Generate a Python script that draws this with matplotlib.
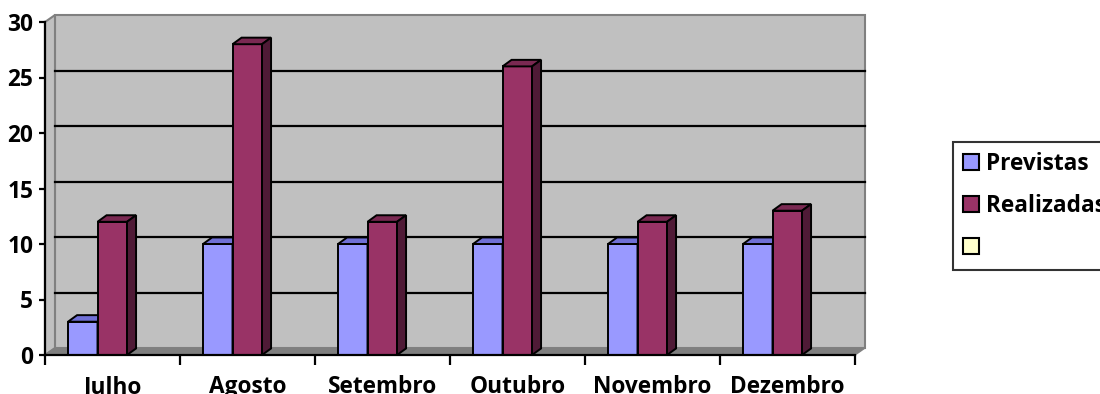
import matplotlib
matplotlib.use('Agg')
import matplotlib.pyplot as plt
from matplotlib.patches import Polygon, Patch

plt.rcParams['font.family'] = ['Open Sans', 'DejaVu Sans']
plt.rcParams['font.weight'] = 'bold'

# dados
meses = ['Julho', 'Agosto', 'Setembro', 'Outubro', 'Novembro', 'Dezembro']
previstas = [3, 10, 10, 10, 10, 10]
realizadas = [12, 28, 12, 26, 12, 13]
series = ['Previstas', 'Realizadas', '']
cores_frente = ['#9999FF', '#993366', '#FFFFCC']
cores_topo = ['#7070D6', '#7A2952']
cores_lado = ['#5A5AAA', '#4F1A36']

ymax = 30
n = len(meses)
dx, dy = 0.074, 0.63     # profundidade da parede (unidades de dados)
bdx, bdy = 0.067, 0.59   # profundidade das barras
w = 0.2185
fs = 16.3

fig = plt.figure(figsize=(11, 3.94), dpi=100)
ax = fig.add_axes([45 / 1100, 39 / 394, 810 / 1100, 333 / 394])
ax.set_xlim(0, n)
ax.set_ylim(0, ymax)

# parede do fundo, lateral e piso
ax.add_patch(Polygon([(dx, dy), (n + dx, dy), (n + dx, ymax + dy), (dx, ymax + dy)],
                     closed=True, fc='#C0C0C0', ec='#808080', lw=1.5, clip_on=False, zorder=1))
ax.add_patch(Polygon([(0, 0), (dx, dy), (dx, ymax + dy), (0, ymax)],
                     closed=True, fc='#C0C0C0', ec='#808080', lw=1.5, clip_on=False, zorder=1))
ax.add_patch(Polygon([(0, 0), (n, 0), (n + dx, dy), (dx, dy)],
                     closed=True, fc='#7F7F7F', ec='#808080', lw=1.0, clip_on=False, zorder=1.5))

# linhas de grade na parede do fundo
for v in range(5, ymax, 5):
    ax.plot([dx, n + dx], [v + dy, v + dy], color='black', lw=1.6, zorder=2, clip_on=False)

# barras 3D
for k, vals in enumerate([previstas, realizadas]):
    for i, h in enumerate(vals):
        c = i + 0.5 - 0.111
        x0 = c - w if k == 0 else c
        z = 3 + k
        ax.bar(x0, h, w, align='edge', color=cores_frente[k], edgecolor='black',
               lw=1.4, zorder=z)
        ax.add_patch(Polygon([(x0, h), (x0 + w, h), (x0 + w + bdx, h + bdy), (x0 + bdx, h + bdy)],
                             closed=True, fc=cores_topo[k], ec='black', lw=1.4,
                             clip_on=False, zorder=z))
        ax.add_patch(Polygon([(x0 + w, 0), (x0 + w + bdx, bdy), (x0 + w + bdx, h + bdy), (x0 + w, h)],
                             closed=True, fc=cores_lado[k], ec='black', lw=1.4,
                             clip_on=False, zorder=z))

# eixos
for s in ['top', 'right']:
    ax.spines[s].set_visible(False)
for s in ['left', 'bottom']:
    ax.spines[s].set_linewidth(1.6)
    ax.spines[s].set_zorder(6)
ax.set_yticks(range(0, ymax + 1, 5))
ax.set_xticks(range(0, n + 1))
ax.set_xticklabels([])
ax.set_xticks([i + 0.5 for i in range(n)], minor=True)
ax.set_xticklabels(meses, minor=True)
ax.tick_params(axis='x', which='major', length=7, width=1.6, direction='out')
ax.tick_params(axis='x', which='minor', length=0, pad=14.5, labelsize=fs)
ax.tick_params(axis='y', length=4.5, width=1.6, direction='out', pad=4, labelsize=fs)

handles = [Patch(fc=cores_frente[k], ec='black', lw=1.5) for k in range(3)]
leg = fig.legend(handles, series, loc='upper left', bbox_to_anchor=(953 / 1100, 1 - 142 / 394),
                 fontsize=fs, frameon=True, fancybox=False, edgecolor='black',
                 handlelength=0.72, handleheight=0.72, handletextpad=0.28,
                 labelspacing=0.78, borderpad=0.45, borderaxespad=0)
leg.get_frame().set_linewidth(1.5)

fig.savefig('out.png', dpi=100)
